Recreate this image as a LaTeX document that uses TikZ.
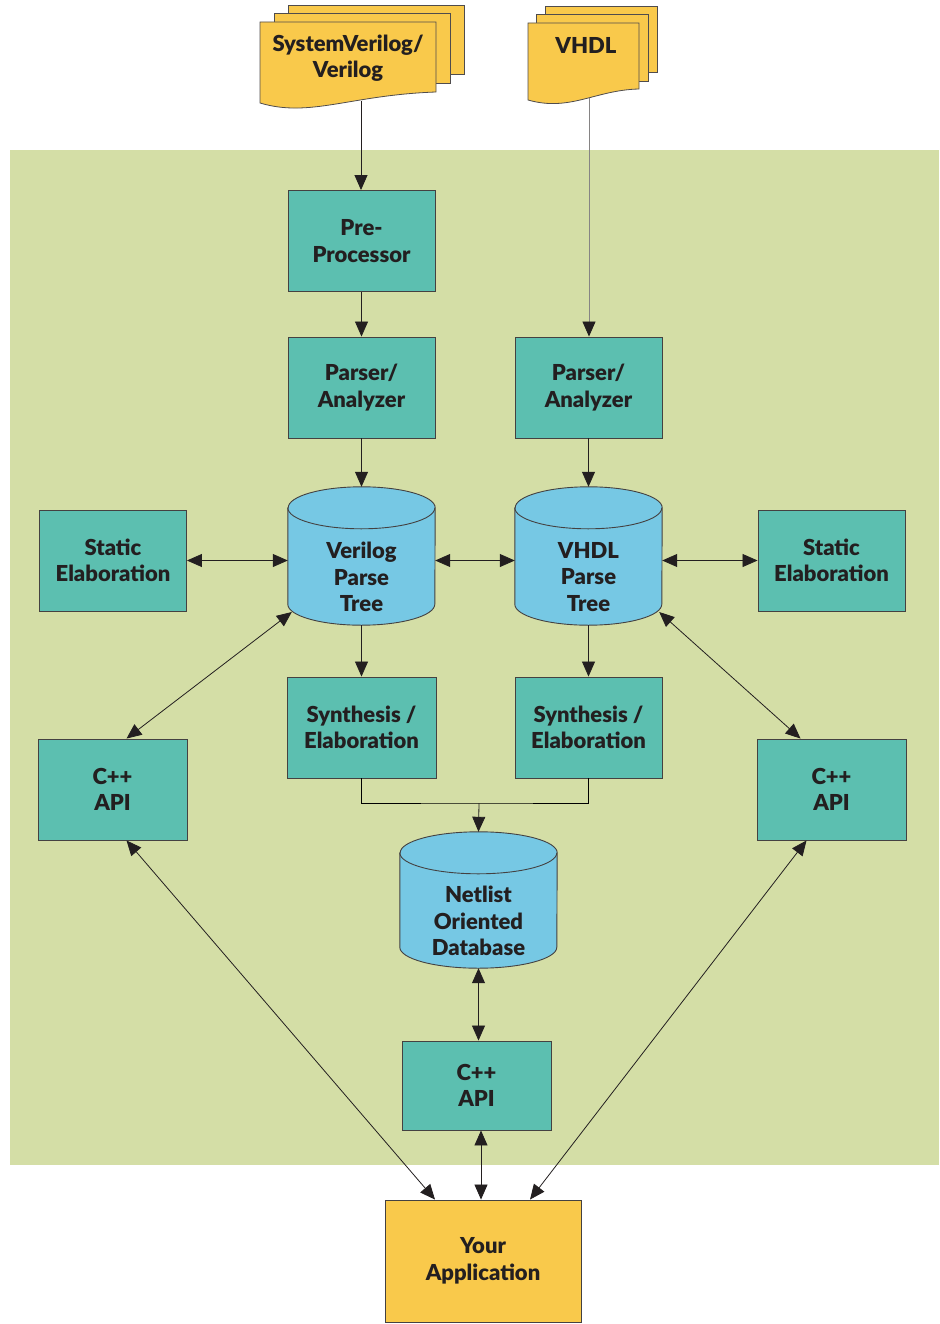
\documentclass[tikz,border=0pt]{standalone}
\usepackage{fontspec}
\setmainfont{Lato}[BoldFont={Lato Black}]
\usetikzlibrary{shapes.geometric,arrows.meta,positioning,calc}

\definecolor{bggreen}{HTML}{D4DEA6}
\definecolor{boxteal}{HTML}{5CBFB0}
\definecolor{cylblue}{HTML}{76C8E4}
\definecolor{docyellow}{HTML}{F9C94B}
\definecolor{inkdark}{HTML}{231F20}

\tikzset{
  label font/.style={font=\bfseries\fontsize{22}{26.5}\selectfont, text=inkdark, align=center},
  box/.style={rectangle, draw=inkdark!85, line width=0.9pt, fill=boxteal, minimum width=147pt, minimum height=101pt, label font},
  tree/.style={rectangle, minimum width=147pt, minimum height=138pt},
  tree text/.style={label={[label font, yshift=-21pt]center:#1}},
  treeline/.style={draw=inkdark!85, line width=0.9pt, fill=cylblue},
  page/.style={draw=inkdark!80, line width=0.8pt, fill=docyellow},
  tipshape/.tip={Triangle[length=15pt,width=13pt,color=inkdark]},
  link/.style={draw=inkdark, line width=0.8pt, -tipshape},
  both/.style={draw=inkdark, line width=0.8pt, tipshape-tipshape}
}

% cylinder outline round a tree node: #1 name, #2 half width
\newcommand\drawtree[2]{%
  \draw[treeline] ([yshift=-21pt]#1.north west) -- ([yshift=21pt]#1.south west)
    arc[start angle=180, end angle=360, x radius=#2, y radius=21pt]
    -- ([yshift=-21pt]#1.north east)
    arc[start angle=0, end angle=180, x radius=#2, y radius=21pt] -- cycle;
  \draw[treeline, fill=none] ([yshift=-21pt]#1.north west)
    arc[start angle=180, end angle=360, x radius=#2, y radius=21pt];
}

\begin{document}
\begin{tikzpicture}[x=1pt, y=-1pt]
  \useasboundingbox (0,0) rectangle (939,1324);
  \fill[bggreen] (10,150) rectangle (939,1165);

  % source documents
  \draw[page] (288,5) rectangle (464,74);
  \draw[page] (274,13) rectangle (450,83);
  \draw[page] (436,92) .. controls (350,95) and (310,118) .. (260,103) -- (260,22) -- (436,22) -- cycle;
  \node[label font] (svtxt) at (348,58) {SystemVerilog/\\Verilog};
  \coordinate (svdoc) at (361,101);

  \draw[page] (545,6) rectangle (657,72);
  \draw[page] (536,14) rectangle (648,81);
  \draw[page] (639,89) .. controls (595,90) and (570,112) .. (528,100) -- (528,23) -- (639,23) -- cycle;
  \node[label font] (vhtxt) at (586,45) {VHDL};
  \coordinate (vhdoc) at (589,98);

  % parse trees and database
  \node[tree] (vpt) at (361.5,556) {};
  \node[tree] (hpt) at (588.5,556) {};
  \node[tree, minimum width=157pt, minimum height=136pt] (ndb) at (478.5,900) {};
  \drawtree{vpt}{73.5pt}
  \drawtree{hpt}{73.5pt}
  \drawtree{ndb}{78.5pt}
  \node[label font] (vpttxt) at ([yshift=-21pt]vpt.center) {Verilog\\Parse\\Tree};
  \node[label font] (hpttxt) at ([yshift=-21pt]hpt.center) {VHDL\\Parse\\Tree};
  \node[label font] (ndbtxt) at ([yshift=-21pt]ndb.center) {Netlist\\Oriented\\Database};

  % tool flow
  \node[box] (pre) at (361.5,241) {Pre-\\Processor};
  \node[box] (parl) at (361.5,387.5) {Parser/\\Analyzer};
  \node[box] (parr) at (588.5,387.5) {Parser/\\Analyzer};
  \node[box] (stl) at (113,560.5) {Static\\Elaboration};
  \node[box] (str) at (831.5,560.5) {Static\\Elaboration};
  \node[box, minimum width=149pt] (syl) at (361.5,727.5) {Synthesis /\\Elaboration};
  \node[box] (syr) at (588.5,727.5) {Synthesis /\\Elaboration};
  \node[box, minimum width=149pt] (capl) at (112.5,789.5) {C++\\API};
  \node[box, minimum width=149pt] (capr) at (831.5,789.5) {C++\\API};
  \node[box, minimum width=149pt, minimum height=89pt] (capm) at (476.5,1085.5) {C++\\API};
  \node[box, fill=docyellow, minimum width=196pt, minimum height=122pt] (app) at (483,1261) {Your\\Application};
  \coordinate (merge) at (479,803);

  \draw[link] (svdoc) -- (svdoc |- pre.north);
  \draw[link, draw=inkdark!55] (vhdoc) -- (vhdoc |- parr.north);
  \draw[link] (pre) -- (parl);
  \draw[link] (parl) -- (vpt.north);
  \draw[link] (parr) -- (hpt.north);
  \draw[both] (stl.east) -- (stl.east -| vpt.west);
  \draw[both] (stl.east -| vpt.east) -- (stl.east -| hpt.west);
  \draw[both] (hpt.east |- str.west) -- (str.west);
  \draw[link] (vpt.south) -- (syl);
  \draw[link] (hpt.south) -- (syr);
  \draw (syl.south) |- (merge) -| (syr.south);
  \draw[link] (merge) -- (ndb.north);
  \draw[both] ($(vpt.west)+(4,56)$) -- ([xshift=14pt]capl.north);
  \draw[both] ($(hpt.east)+(-3,56)$) -- ([xshift=-31pt]capr.north);
  \draw[both] (ndb.south) -- (ndb.south |- capm.north);
  \draw[both] ([xshift=-2pt]app.north |- capm.south) -- ([xshift=-2pt]app.north);
  \draw[both] ([xshift=14pt]capl.south) -- ([xshift=-48pt]app.north);
  \draw[both] ([xshift=-25pt]capr.south) -- ([xshift=47pt]app.north);
\end{tikzpicture}
\end{document}
